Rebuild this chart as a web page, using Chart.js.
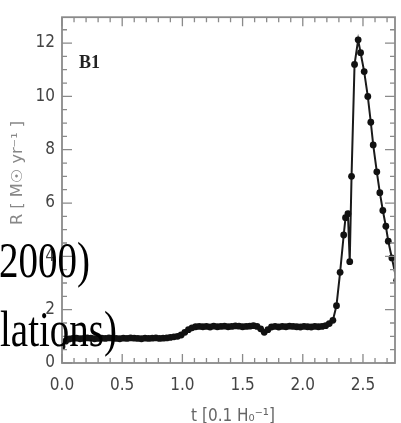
<!DOCTYPE html>
<html>
<head>
<meta charset="utf-8">
<script src="https://cdn.jsdelivr.net/npm/chart.js@4.4.1/dist/chart.umd.min.js"></script>
<style>
  html, body { margin: 0; padding: 0; background: #fff; }
  #wrap { width: 401px; height: 423px; position: relative; }
  canvas { filter: blur(0.5px); }
</style>
</head>
<body>
<div id="wrap"><canvas id="sfrChart" width="401" height="423"></canvas></div>
<script>
// time [0.1 / H0]
const tVals = [
    0.00, 0.03, 0.06, 0.09, 0.12, 0.15, 0.18, 0.21, 0.24, 0.27, 0.30, 0.33, 0.36, 0.39, 0.42, 0.45,
    0.48, 0.51, 0.54, 0.57, 0.60, 0.63, 0.66, 0.69, 0.72, 0.75, 0.78, 0.81, 0.84, 0.87, 0.90, 0.93,
    0.96, 0.99, 1.02, 1.05, 1.08, 1.11, 1.14,
    1.17, 1.20, 1.23, 1.26, 1.29, 1.32, 1.35, 1.38, 1.41, 1.44, 1.47, 1.50, 1.53, 1.56, 1.59, 1.62,
    1.65, 1.68, 1.71, 1.74, 1.77, 1.80, 1.83, 1.86, 1.89, 1.92, 1.95, 1.98, 2.01, 2.04, 2.07, 2.10,
    2.13, 2.16, 2.19, 2.22,
    2.25, 2.28, 2.31, 2.34, 2.355, 2.375, 2.39, 2.405, 2.43, 2.46, 2.48, 2.51, 2.54, 2.565, 2.585,
    2.615, 2.64, 2.665, 2.69, 2.71, 2.74, 2.78
];
// star formation rate [Msun / yr]
const sfrVals = [
    0.62, 0.82, 0.90, 0.92, 0.93, 0.91, 0.92, 0.94, 0.93, 0.91, 0.92, 0.93, 0.92, 0.94, 0.93, 0.92,
    0.91, 0.93, 0.92, 0.94, 0.93, 0.92, 0.91, 0.93, 0.92, 0.93, 0.94, 0.92, 0.93, 0.94, 0.96, 0.98,
    1.00, 1.05, 1.15, 1.25, 1.32, 1.36, 1.37,
    1.36, 1.37, 1.35, 1.38, 1.36, 1.37, 1.38, 1.36, 1.37, 1.39, 1.38, 1.36, 1.37, 1.38, 1.40, 1.37,
    1.28, 1.15, 1.25, 1.35, 1.37, 1.35, 1.37, 1.36, 1.38, 1.37, 1.36, 1.35, 1.37, 1.36, 1.35, 1.37,
    1.36, 1.37, 1.40, 1.48,
    1.60, 2.15, 3.40, 4.80, 5.45, 5.60, 3.80, 7.00, 11.20, 12.12, 11.64, 10.93, 10.00, 9.03, 8.18,
    7.17, 6.39, 5.72, 5.13, 4.57, 3.94, 3.10
];
const xTicks = [0, 0.5, 1.0, 1.5, 2.0, 2.5];
const xTickLabels = ['0.0', '0.5', '1.0', '1.5', '2.0', '2.5'];
const yTicks = [0, 2, 4, 6, 8, 10, 12];
const yTickLabels = ['0', '2', '4', '6', '8', '10', '12'];

const frameColor = '#8a8a8a';
const labelFont = "'DejaVu Sans Condensed', 'Liberation Sans Narrow', 'DejaVu Sans', sans-serif";

// 枠・目盛り・注記
const framePlugin = {
    id: 'frame',
    afterDraw(chart) {
        const ctx = chart.ctx;
        const a = chart.chartArea;
        const xs = chart.scales.x;
        const ys = chart.scales.y;
        ctx.save();
        ctx.strokeStyle = frameColor;
        ctx.lineWidth = 1.8;
        ctx.strokeRect(a.left, a.top, a.right - a.left, a.bottom - a.top);

        ctx.lineWidth = 1.3;
        ctx.beginPath();
        // x ticks (minor every 0.1)
        for (let i = 0; i <= 28; i++) {
            const v = i / 10;
            const px = xs.getPixelForValue(v);
            if (px > a.right) break;
            const len = (i % 5 === 0) ? 9 : 5;
            ctx.moveTo(px, a.bottom); ctx.lineTo(px, a.bottom - len);
            ctx.moveTo(px, a.top); ctx.lineTo(px, a.top + len);
        }
        // y ticks (minor every 0.5)
        for (let i = 0; i <= 26; i++) {
            const v = i / 2;
            const py = ys.getPixelForValue(v);
            if (py < a.top) break;
            const len = (i % 4 === 0) ? 10 : 5;
            ctx.moveTo(a.left, py); ctx.lineTo(a.left + len, py);
            ctx.moveTo(a.right, py); ctx.lineTo(a.right - len, py);
        }
        ctx.stroke();

        // panel label
        ctx.fillStyle = '#222';
        ctx.font = "bold 18px 'Liberation Serif', serif";
        ctx.textAlign = 'left';
        ctx.textBaseline = 'alphabetic';
        ctx.fillText('B1', 79, 68);

        // axis titles
        ctx.fillStyle = '#666';
        ctx.font = "17px " + labelFont;
        ctx.textAlign = 'center';
        ctx.fillText('t [0.1 H\u2080\u207B\u00B9]', 233, 421);

        ctx.fillStyle = '#888';
        ctx.save();
        ctx.translate(18, 173);
        ctx.rotate(-Math.PI / 2);
        ctx.scale(1.2, 1);
        ctx.font = "15px " + labelFont;
        ctx.textAlign = 'center';
        ctx.textBaseline = 'middle';
        ctx.fillText('R [ M\u2609 yr\u207B\u00B9 ]', 0, 0);
        ctx.restore();

        // overlapping caption text
        ctx.fillStyle = '#000';
        ctx.font = "50px 'Liberation Serif', 'Times New Roman', serif";
        ctx.textAlign = 'right';
        ctx.save();
        ctx.scale(0.78, 1);
        ctx.fillText('2000)', 90 / 0.78, 277);
        ctx.fillText('lations)', 117 / 0.78, 346);
        ctx.restore();

        ctx.restore();
    }
};

document.addEventListener('DOMContentLoaded', function() {
    const points = tVals.map((t, i) => ({ x: t, y: sfrVals[i] }));
    const ctx = document.getElementById('sfrChart').getContext('2d');
    new Chart(ctx, {
        type: 'scatter',
        data: {
            datasets: [{
                label: 'SFR',
                data: points,
                showLine: true,
                borderColor: '#1a1a1a',
                borderWidth: 2,
                pointRadius: 3.4,
                pointBackgroundColor: '#111',
                pointBorderWidth: 0,
                tension: 0
            }]
        },
        options: {
            responsive: false,
            animation: false,
            events: [],
            layout: { padding: { top: 14, right: 6, left: 0, bottom: 0 } },
            plugins: {
                legend: { display: false },
                tooltip: { enabled: false }
            },
            scales: {
                x: {
                    type: 'linear',
                    min: 0,
                    max: 2.766,
                    grid: { display: false, drawTicks: false },
                    border: { display: false },
                    afterBuildTicks: function(scale) {
                        scale.ticks = xTicks.map(v => ({ value: v }));
                    },
                    afterFit: function(scale) { scale.height = 60; },
                    ticks: {
                        padding: 12,
                        maxRotation: 0,
                        autoSkip: false,
                        color: '#444',
                        font: { family: labelFont, size: 17 },
                        callback: function(value, index) { return xTickLabels[index]; }
                    }
                },
                y: {
                    type: 'linear',
                    min: 0,
                    max: 12.97,
                    grid: { display: false, drawTicks: false },
                    border: { display: false },
                    afterBuildTicks: function(scale) {
                        scale.ticks = yTicks.map(v => ({ value: v }));
                    },
                    afterFit: function(scale) { scale.width = 62; },
                    ticks: {
                        padding: 7,
                        autoSkip: false,
                        color: '#444',
                        font: { family: labelFont, size: 17 },
                        callback: function(value, index) { return yTickLabels[index]; }
                    }
                }
            }
        },
        plugins: [framePlugin]
    });
});
</script>
</body>
</html>
